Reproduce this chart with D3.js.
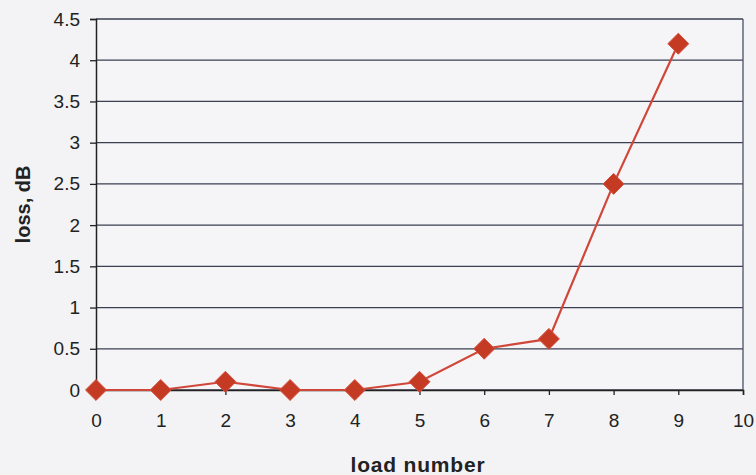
<!DOCTYPE html>
<html>
<head>
<meta charset="utf-8">
<script src="https://cdn.jsdelivr.net/npm/d3@7"></script>
<style>
  html, body { margin: 0; padding: 0; background: #f3f3f5; }
  svg { display: block; }
</style>
</head>
<body>
<script>
// Loss measured after each load
const loadNumbers = [0, 1, 2, 3, 4, 5, 6, 7, 8, 9];
const lossDb = [0, 0, 0.1, 0, 0, 0.1, 0.5, 0.62, 2.5, 4.2];
const xTicks = [0, 1, 2, 3, 4, 5, 6, 7, 8, 9, 10];
const yTicks = [0, 0.5, 1, 1.5, 2, 2.5, 3, 3.5, 4, 4.5];
const yTickLabels = ["0", "0.5", "1", "1.5", "2", "2.5", "3", "3.5", "4", "4.5"];

const W = 756, H = 475;
const m = { left: 96, right: 13, top: 19, bottom: 85 };

const svg = d3.select("body").append("svg")
  .attr("width", W).attr("height", H);

svg.append("rect").attr("width", W).attr("height", H).attr("fill", "#f3f3f5");

const x = d3.scaleLinear().domain([0, 10]).range([m.left, W - m.right]);
const y = d3.scaleLinear().domain([0, 4.5]).range([H - m.bottom, m.top]);

const gridColor = "#3a3f52";
const font = "Liberation Sans, Arial, sans-serif";

// plot area
svg.append("rect")
  .attr("x", x(0)).attr("y", y(4.5))
  .attr("width", x(10) - x(0)).attr("height", y(0) - y(4.5))
  .attr("fill", "#f5f5f7");

// horizontal gridlines
svg.append("g").selectAll("line").data(yTicks).join("line")
  .attr("x1", x(0)).attr("x2", x(10))
  .attr("y1", d => y(d)).attr("y2", d => y(d))
  .attr("stroke", gridColor).attr("stroke-width", 1.3);

// right border
svg.append("line")
  .attr("x1", x(10)).attr("x2", x(10)).attr("y1", y(4.5)).attr("y2", y(0))
  .attr("stroke", "#4a4f6a").attr("stroke-width", 1.3);

// y axis
const yAxis = d3.axisLeft(y).tickValues(yTicks)
  .tickFormat((d, i) => yTickLabels[i]).tickSize(6).tickPadding(10);
const gy = svg.append("g").attr("transform", `translate(${x(0)},0)`).call(yAxis);
gy.select(".domain").attr("stroke", "#222").attr("stroke-width", 1.5);
gy.selectAll(".tick line").attr("stroke", "#222").attr("stroke-width", 1.3);
gy.selectAll("text").attr("font-family", font).attr("font-size", 19).attr("fill", "#222");

// x axis
const xAxis = d3.axisBottom(x).tickValues(xTicks).tickFormat(d3.format("d"))
  .tickSize(5).tickPadding(19);
const gx = svg.append("g").attr("transform", `translate(0,${y(0)})`).call(xAxis);
gx.select(".domain").attr("stroke", "#222").attr("stroke-width", 1.5);
gx.selectAll(".tick line").attr("stroke", "#222").attr("stroke-width", 1.3);
gx.selectAll("text").attr("font-family", font).attr("font-size", 19).attr("fill", "#222");

// axis titles
svg.append("text")
  .attr("x", 418).attr("y", 472)
  .attr("text-anchor", "middle")
  .attr("font-family", font).attr("font-size", 21).attr("font-weight", "bold")
  .attr("letter-spacing", 0.8)
  .attr("fill", "#222").text("load number");

svg.append("text")
  .attr("transform", `translate(30,${(y(0) + y(4.5)) / 2}) rotate(-90)`)
  .attr("text-anchor", "middle")
  .attr("font-family", font).attr("font-size", 20).attr("font-weight", "bold")
  .attr("fill", "#222").text("loss, dB");

// series
const pts = loadNumbers.map((d, i) => [d, lossDb[i]]);
svg.append("path")
  .attr("d", d3.line().x(d => x(d[0])).y(d => y(d[1]))(pts))
  .attr("fill", "none").attr("stroke", "#d0473a").attr("stroke-width", 2.2);

svg.append("g").selectAll("path").data(pts).join("path")
  .attr("transform", d => `translate(${x(d[0])},${y(d[1])})`)
  .attr("d", d3.symbol().type(d3.symbolDiamond2).size(280)())
  .attr("fill", "#c43a22").attr("stroke", "#d55040").attr("stroke-width", 1);
</script>
</body>
</html>
